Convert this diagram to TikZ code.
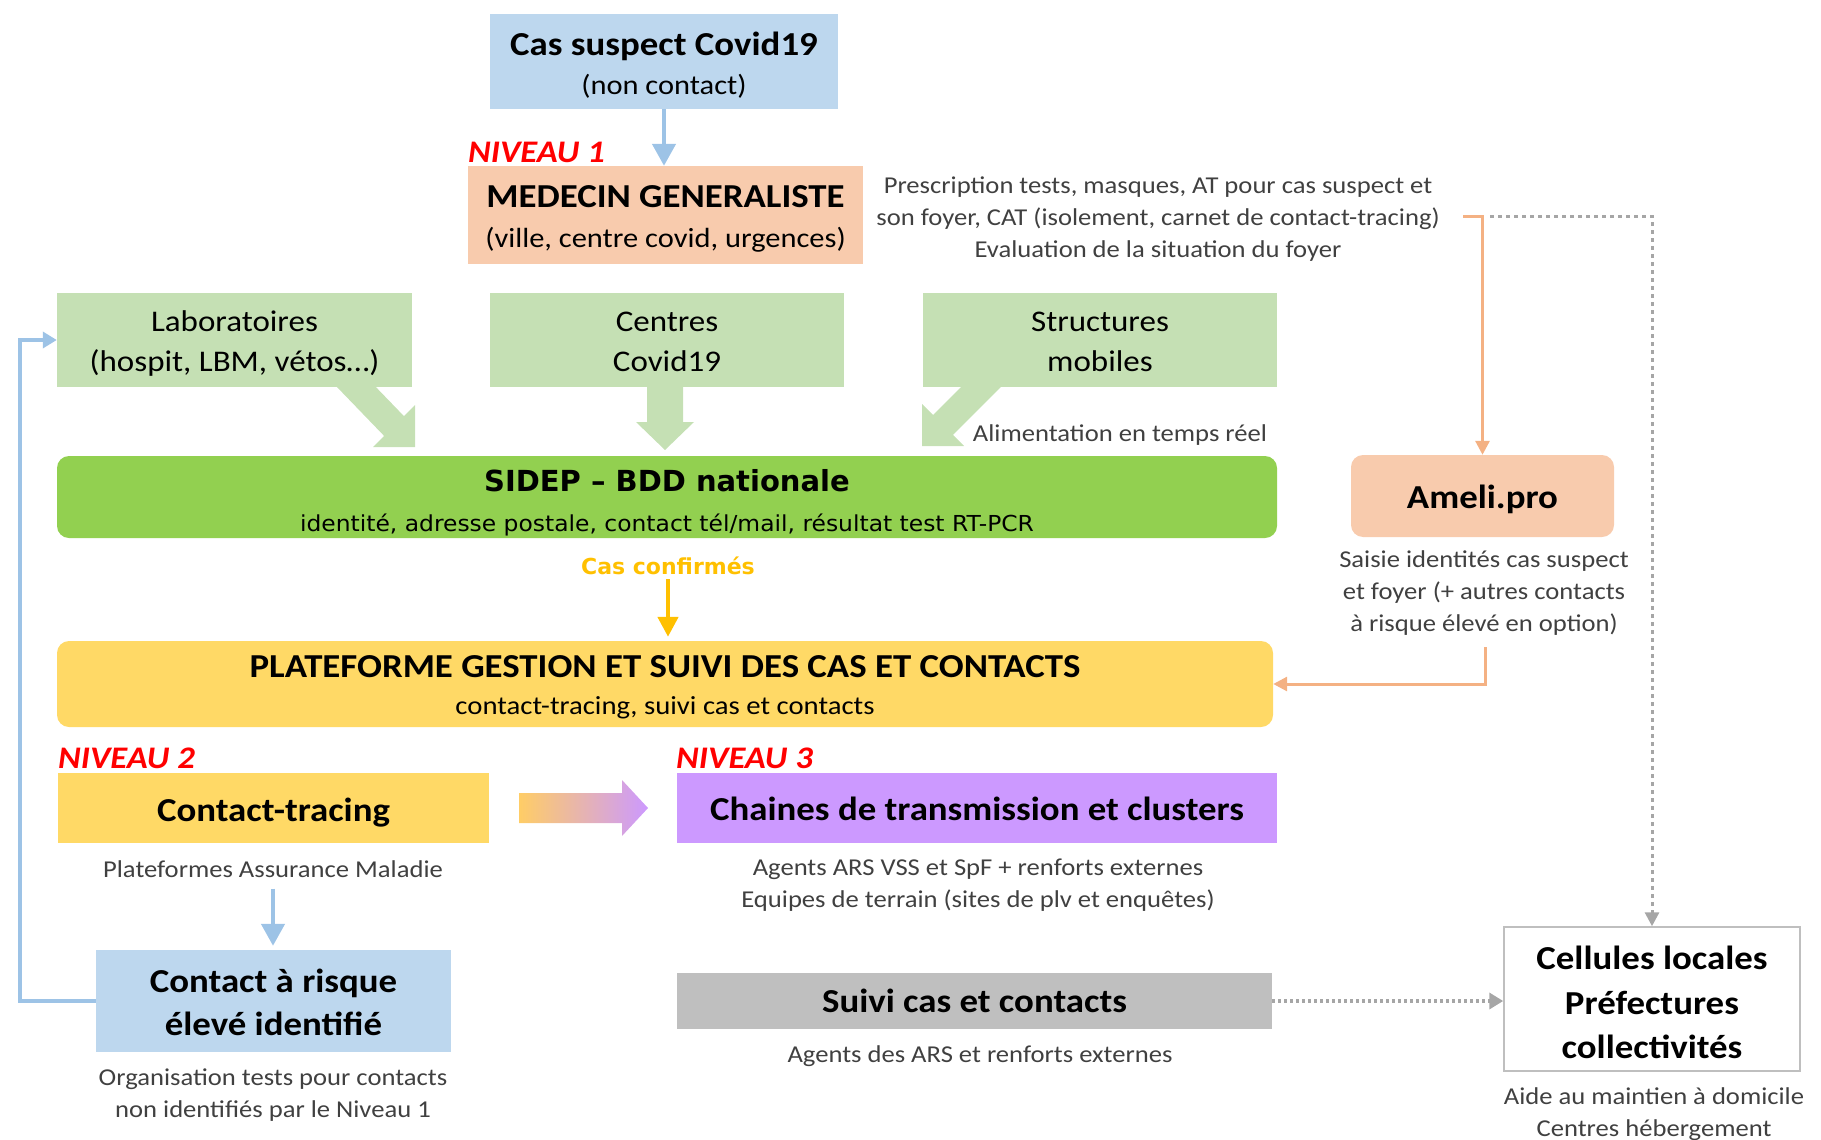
\documentclass[tikz,border=0pt]{standalone}
\usepackage{fontspec}
\setmainfont{Carlito}[FakeStretch=1.1]
\newfontfamily\dvs{DejaVu Sans}
\newfontfamily\dvsw{DejaVu Sans}[FakeStretch=1.064]
\usetikzlibrary{arrows.meta}
\definecolor{lblue}{HTML}{BDD7EE}
\definecolor{ablue}{HTML}{9DC3E6}
\definecolor{salmon}{HTML}{F8CBAD}
\definecolor{aorange}{HTML}{F4B183}
\definecolor{lgreen}{HTML}{C5E0B4}
\definecolor{sgreen}{HTML}{92D050}
\definecolor{gold}{HTML}{FFD966}
\definecolor{goldb}{HTML}{FFCD66}
\definecolor{amber}{HTML}{FFC000}
\definecolor{lpurple}{HTML}{CC99FF}
\definecolor{lgray}{HTML}{BFBFBF}
\definecolor{dgray}{HTML}{A6A6A6}
\definecolor{txt}{HTML}{404040}
\newcommand\bt[1]{{\fontsize{33.5}{41}\selectfont\bfseries #1}}
\begin{document}
\begin{tikzpicture}[x=1pt,y=-1pt,
  shp/.style={inner sep=0pt},
  tx/.style={inner sep=0pt, align=center, text=black, font=\fontsize{27.7}{41}\selectfont},
  desc/.style={inner sep=0pt, align=center, text=txt, font=\fontsize{24.2}{32}\selectfont},
  niv/.style={inner sep=0pt, anchor=west, text=red, font=\fontsize{31.4}{31}\selectfont\bfseries\itshape},
  barrow/.style={ablue, line width=4.5pt, -{Triangle[width=23pt,length=22pt]}},
  oarrow/.style={aorange, line width=3pt, -{Triangle[width=14pt,length=14pt]}},
  garrow/.style={dgray, line width=3pt, dash pattern=on 4pt off 4pt, -{Triangle[width=14pt,length=14pt]}}
]
\useasboundingbox (0,0) rectangle (1821,1140);

% green block arrows
\fill[lgreen] (330.1,379.9) -- (384.1,435.9) -- (373,447) -- (415,447) -- (415,405) -- (403.9,416.1) -- (349.9,360.1) -- cycle;
\fill[lgreen] (647,380) -- (647,422) -- (636,422) -- (665,450) -- (694,422) -- (683,422) -- (683,380) -- cycle;
\fill[lgreen] (987.1,361.1) -- (933.1,415.1) -- (922,404) -- (922,446) -- (964,446) -- (952.9,434.9) -- (1006.9,380.9) -- cycle;

% boxes
\node[shp, fill=lblue, minimum width=348pt, minimum height=95pt] (cas) at (664,61.5) {};
\node[tx, font=\fontsize{27.7}{38.7}\selectfont] (castx) at ([yshift=-3.5pt]cas.center) {\bt{Cas suspect Covid19}\\(non contact)};
\node[shp, fill=salmon, minimum width=395pt, minimum height=98pt] (med) at (665.5,215) {};
\node[tx, font=\fontsize{27.7}{40}\selectfont] (medtx) at ([yshift=-4.1pt]med.center) {\bt{MEDECIN GENERALISTE}\\(ville, centre covid, urgences)};
\node[shp, fill=lgreen, minimum width=355pt, minimum height=94pt] (labs) at (234.5,340) {};
\node[tx, font=\fontsize{30}{40}\selectfont] (labstx) at ([yshift=-3.2pt]labs.center) {Laboratoires\\(hospit, LBM, vétos…)};
\node[shp, fill=lgreen, minimum width=354pt, minimum height=94pt] (centres) at (667,340) {};
\node[tx, font=\fontsize{30}{40}\selectfont] (centrestx) at ([yshift=-2pt]centres.center) {Centres\\Covid19};
\node[shp, fill=lgreen, minimum width=354pt, minimum height=94pt] (struct) at (1100,340) {};
\node[tx, font=\fontsize{30}{40}\selectfont] (structtx) at ([yshift=-2pt]struct.center) {Structures\\mobiles};
\node[shp, fill=sgreen, rounded corners=12pt, minimum width=1220pt, minimum height=82pt] (sidep) at (667,497) {};
\node[tx, font=\fontsize{22}{40}\selectfont\dvsw] (sideptx) at ([yshift=-5.8pt]sidep.center) {{\dvs\bfseries\fontsize{29}{40}\selectfont SIDEP – BDD nationale}\\identité, adresse postale, contact tél/mail, résultat test RT-PCR};
\node[shp, fill=gold, rounded corners=12pt, minimum width=1216pt, minimum height=86pt] (plat) at (665,684) {};
\node[tx, font=\fontsize{26.1}{36.7}\selectfont] (plattx) at ([yshift=-3.45pt]plat.center) {\bt{PLATEFORME GESTION ET SUIVI DES CAS ET CONTACTS}\\contact-tracing, suivi cas et contacts};
\node[shp, fill=salmon, rounded corners=12pt, minimum width=263pt, minimum height=82pt] (ameli) at (1482.5,496) {};
\node[tx] (amelitx) at ([yshift=-3.5pt]ameli.center) {\bt{Ameli.pro}};
\node[shp, fill=gold, minimum width=431pt, minimum height=70pt] (ct) at (273.5,808) {};
\node[tx] (cttx) at ([yshift=-4.6pt]ct.center) {\bt{Contact-tracing}};
\node[shp, fill=lpurple, minimum width=600pt, minimum height=70pt] (chain) at (977,808) {};
\node[tx] (chaintx) at ([yshift=-1.2pt]chain.center) {\bt{Chaines de transmission et clusters}};
\node[shp, fill=lblue, minimum width=355pt, minimum height=102pt] (risk) at (273.5,1001) {};
\node[tx, font=\fontsize{33.5}{43}\selectfont\bfseries] (risktx) at ([yshift=-1.2pt]risk.center) {Contact à risque\\élevé identifié};
\node[shp, fill=lgray, minimum width=595pt, minimum height=56pt] (suivi) at (974.5,1001) {};
\node[tx] (suivitx) at (suivi.center) {\bt{Suivi cas et contacts}};
\node[shp, fill=white, draw=lgray, line width=1.5pt, minimum width=296pt, minimum height=144pt] (cell) at (1652,999) {};
\node[tx, font=\fontsize{33.5}{44.5}\selectfont\bfseries] (celltx) at ([yshift=-3.5pt]cell.center) {Cellules locales\\Préfectures\\collectivités};

% labels
\node[niv] (n1) at (468,152) {NIVEAU 1};
\node[niv] (n2) at (58,758) {NIVEAU 2};
\node[niv] (n3) at (676,758) {NIVEAU 3};
\node[inner sep=0pt, text=amber, font=\dvs\bfseries\fontsize{22}{22}\selectfont] (cc) at (668,566) {Cas confirmés};

\node[desc] (presc) at (1158,219.3) {Prescription tests, masques, AT pour cas suspect et\\son foyer, CAT (isolement, carnet de contact-tracing)\\Evaluation de la situation du foyer};
\node[desc] (alim) at (1120,435.3) {Alimentation en temps réel};
\node[desc] (amelid) at (1484,592.7) {Saisie identités cas suspect\\et foyer (+ autres contacts\\à risque élevé en option)};
\node[desc] (pam) at (273,869) {Plateformes Assurance Maladie};
\node[desc] (chaind) at (978,885.3) {Agents ARS VSS et SpF + renforts externes\\Equipes de terrain (sites de plv et enquêtes)};
\node[desc] (riskd) at (273,1094.7) {Organisation tests pour contacts\\non identifiés par le Niveau 1};
\node[desc] (suivid) at (980,1056.3) {Agents des ARS et renforts externes};
\node[desc] (celld) at (1654,1114) {Aide au maintien à domicile\\Centres hébergement};

% gradient arrow
\shade[left color=goldb, right color=lpurple] (519,793) -- (622,793) -- (622,780) -- (648,808) -- (622,836) -- (622,823) -- (519,823) -- cycle;

% connectors
\coordinate (o1) at (1463,216);
\coordinate (g1) at (1490,216);
\coordinate (a1) at (1485,647);
\draw[barrow] (cas.south) -- (cas.south |- med.north);
\draw[oarrow] (o1) -| (ameli.north);
\draw[garrow] (g1) -| (cell.north);
\draw[oarrow] (a1) |- (plat.east);
\draw[amber, line width=4.5pt, -{Triangle[width=20pt,length=20pt]}, shorten <=4pt, shorten >=4pt] (cc.south) -- (cc.south |- plat.north);
\draw[barrow, shorten <=11pt, shorten >=4pt] (pam.south) -- (pam.south |- risk.north);
\draw[ablue, line width=4pt, -{Triangle[width=16pt,length=14pt]}] (risk.west) -- ++(-76,0) |- (labs.west);
\draw[dgray, line width=4pt, dash pattern=on 3pt off 3pt, -{Triangle[width=16pt,length=14pt]}] (suivi.east) -- (suivi.east -| cell.west);
\end{tikzpicture}
\end{document}
